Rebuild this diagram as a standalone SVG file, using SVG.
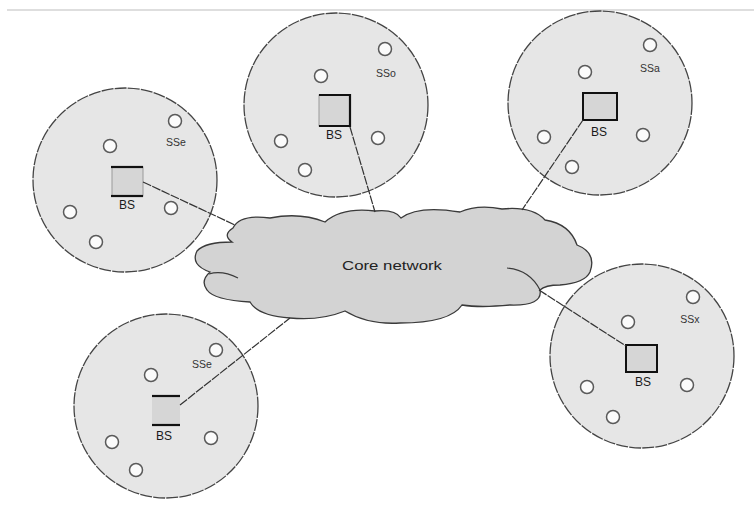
<svg xmlns="http://www.w3.org/2000/svg" width="754" height="509" viewBox="0 0 754 509">
<style>
.cell{fill:#e6e6e6;stroke:#444;stroke-width:1.3;stroke-dasharray:12 1.2}
.ss{fill:#fbfbfb;stroke:#5a5a5a;stroke-width:1.5}
.box{fill:#d6d6d6;stroke:#9a9a9a;stroke-width:1}
.boxk{fill:#d6d6d6;stroke:#111;stroke-width:2}
.edge{stroke:#111;stroke-width:2.2;fill:none}
.lbl{font-family:"Liberation Sans",Arial,sans-serif;font-size:12px;fill:#1a1a1a;text-anchor:middle}
.sl{font-family:"Liberation Sans",Arial,sans-serif;font-size:10.5px;fill:#333;text-anchor:middle}
.conn{stroke:#333;stroke-width:1.2;fill:none;stroke-dasharray:9 1.2}
.cloud{fill:#d3d3d3;stroke:#3a3a3a;stroke-width:1.3}
</style>
<rect width="754" height="509" fill="#ffffff"/>
<line x1="7" y1="10" x2="754" y2="10" stroke="#bdbdbd" stroke-width="1"/>

<g id="cell-left">
<circle class="cell" cx="125" cy="180" r="92"/>
<rect class="box" x="112" y="167" width="31" height="29"/>
<line class="edge" x1="111" y1="167" x2="143" y2="167" stroke-width="2.6"/>
<line class="edge" x1="111" y1="196" x2="143" y2="196"/>
<text class="lbl" x="127" y="209">BS</text>
<circle class="ss" cx="110" cy="146" r="6.5"/>
<circle class="ss" cx="70" cy="212" r="6.5"/>
<circle class="ss" cx="96" cy="242" r="6.5"/>
<circle class="ss" cx="171" cy="208" r="6.5"/>
<circle class="ss" cx="175" cy="121" r="6.5"/>
<text class="sl" x="176" y="146">SSe</text>
</g>

<g id="cell-top-center">
<circle class="cell" cx="336" cy="105" r="92"/>
<rect class="box" x="319" y="95" width="31" height="31"/>
<polyline class="edge" points="319,95 350,95 350,126 319,126"/>
<text class="lbl" x="334" y="139">BS</text>
<circle class="ss" cx="321" cy="76" r="6.5"/>
<circle class="ss" cx="385" cy="49" r="6.5"/>
<circle class="ss" cx="378" cy="138" r="6.5"/>
<circle class="ss" cx="305" cy="170" r="6.5"/>
<circle class="ss" cx="281" cy="141" r="6.5"/>
<text class="sl" x="386" y="77">SSo</text>
</g>

<g id="cell-top-right">
<circle class="cell" cx="600" cy="103" r="92"/>
<rect class="boxk" x="583" y="93" width="34" height="27"/>
<text class="lbl" x="599" y="136">BS</text>
<circle class="ss" cx="585" cy="72" r="6.5"/>
<circle class="ss" cx="650" cy="45" r="6.5"/>
<circle class="ss" cx="544" cy="137" r="6.5"/>
<circle class="ss" cx="572" cy="167" r="6.5"/>
<circle class="ss" cx="643" cy="135" r="6.5"/>
<text class="sl" x="650" y="72">SSa</text>
</g>

<g id="cell-bottom-left">
<circle class="cell" cx="166" cy="406" r="92"/>
<rect x="152" y="396" width="28" height="29" fill="#d6d6d6"/>
<line class="edge" x1="152" y1="396" x2="180" y2="396"/>
<line class="edge" x1="152" y1="425" x2="180" y2="425"/>
<text class="lbl" x="164" y="440">BS</text>
<circle class="ss" cx="151" cy="375" r="6.5"/>
<circle class="ss" cx="216" cy="350" r="6.5"/>
<circle class="ss" cx="211" cy="438" r="6.5"/>
<circle class="ss" cx="112" cy="442" r="6.5"/>
<circle class="ss" cx="136" cy="470" r="6.5"/>
<text class="sl" x="202" y="368">SSe</text>
</g>

<g id="cell-bottom-right">
<circle class="cell" cx="642" cy="356" r="92"/>
<rect class="boxk" x="626" y="345" width="31" height="27"/>
<text class="lbl" x="643" y="386">BS</text>
<circle class="ss" cx="628" cy="322" r="6.5"/>
<circle class="ss" cx="693" cy="297" r="6.5"/>
<circle class="ss" cx="687" cy="385" r="6.5"/>
<circle class="ss" cx="587" cy="387" r="6.5"/>
<circle class="ss" cx="613" cy="417" r="6.5"/>
<text class="sl" x="690" y="323">SSx</text>
</g>

<g id="core-network">
<path class="cloud" d="M233,228 Q240,214 270,218 Q300,212 325,222 Q342,207 375,211 Q395,209 401,218 Q418,205 460,212 Q478,204 502,209 Q532,206 545,220 Q570,224 577,245 Q597,253 590,272 Q585,283 560,285 Q545,285 540,290 Q543,306 510,305 Q480,308 462,305 Q450,323 400,323 Q368,325 345,311 Q320,321 290,318 Q258,316 250,302 Q214,300 207,290 Q200,281 210,272 Q190,265 197,251 Q205,242 232,242 Q222,235 233,228 Z"/>
<path d="M209,274 Q222,270 238,278" fill="none" stroke="#3a3a3a" stroke-width="1.2"/>
<path d="M507,268 Q530,270 540,290" fill="none" stroke="#3a3a3a" stroke-width="1.2"/>
<text x="392" y="270" font-family="Liberation Sans, Arial, sans-serif" font-size="13" fill="#222" text-anchor="middle" textLength="100" lengthAdjust="spacingAndGlyphs">Core network</text>
</g>

<g id="connectors">
<line class="conn" x1="143" y1="182" x2="235" y2="225"/>
<line class="conn" x1="350" y1="127" x2="375" y2="212"/>
<line class="conn" x1="583" y1="120" x2="522" y2="210"/>
<line class="conn" x1="180" y1="405" x2="290" y2="318"/>
<line class="conn" x1="539" y1="290" x2="626" y2="346"/>
</g>
</svg>
